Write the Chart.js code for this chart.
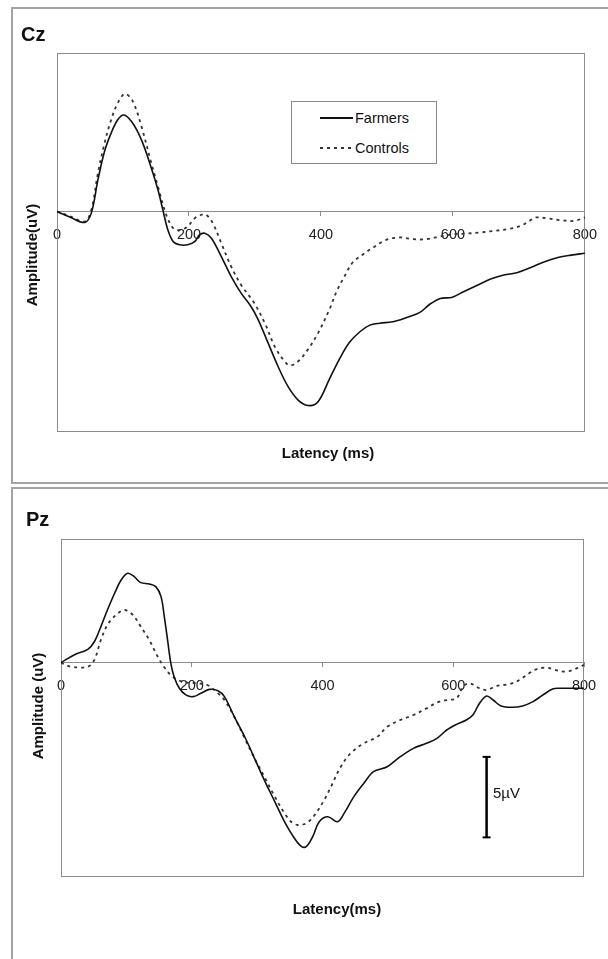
<!DOCTYPE html>
<html>
<head>
<meta charset="utf-8">
<script src="https://cdn.jsdelivr.net/npm/chart.js@4.4.1/dist/chart.umd.min.js"></script>
<style>
  body { margin: 0; width: 608px; height: 959px; overflow: hidden; position: relative; background: #fff;
         font-family: "Liberation Sans", Arial, sans-serif; color: #111; }
  .box { position: absolute; border: 2px solid #a3a3a3; box-sizing: border-box; }
  canvas { position: absolute; left: 0; }
  .txt { position: absolute; white-space: nowrap; }
  .panel-title { font-weight: bold; font-size: 20px; line-height: 20px; }
  .axis-title { font-weight: bold; font-size: 15px; line-height: 18px; text-align: center; width: 160px; }
  .legend-text { font-size: 14.5px; line-height: 16px; }
</style>
</head>
<body>
<div class="box" style="left:11px;top:7px;width:620px;height:477px"></div>
<div class="box" style="left:11px;top:487px;width:620px;height:490px"></div>

<canvas id="cz" width="608" height="483" style="top:0"></canvas>
<canvas id="pz" width="608" height="471" style="top:488px"></canvas>

<div class="txt panel-title" style="left:21px;top:24px">Cz</div>
<div class="txt panel-title" style="left:26px;top:509px">Pz</div>

<div class="txt axis-title" style="left:-48px;top:246px;transform:rotate(-90deg)">Amplitude(uV)</div>
<div class="txt axis-title" style="left:248px;top:444px">Latency (ms)</div>
<div class="txt axis-title" style="left:-42px;top:697px;transform:rotate(-90deg)">Amplitude (uV)</div>
<div class="txt axis-title" style="left:257px;top:900px">Latency(ms)</div>

<div style="position:absolute;left:291px;top:101px;width:146px;height:63px;border:1px solid #8a8a8a;box-sizing:border-box;background:#fff"></div>
<div style="position:absolute;left:320px;top:117px;width:33px;height:1.6px;background:#111"></div>
<div class="txt legend-text" style="left:355px;top:110px">Farmers</div>
<div style="position:absolute;left:320px;top:147px;width:33px;height:2px;background:repeating-linear-gradient(90deg,#333 0 3px,transparent 3px 7px)"></div>
<div class="txt legend-text" style="left:355px;top:140px">Controls</div>

<div class="txt" style="left:493px;top:785px;font-size:15px;line-height:16px">5µV</div>

<script>
// Cz electrode, latency (ms) and amplitude (uV)
const czFarmersMs = [0, 20, 42, 52, 62, 72, 82, 92, 101, 113, 128, 143, 153, 161, 168, 176, 186, 198, 209, 216, 224, 234, 249, 264, 279, 294, 305, 320, 335, 350, 365, 380, 395, 413, 428, 443, 459, 474, 489, 509, 530, 550, 565, 581, 598, 616, 637, 657, 677, 698, 718, 738, 759, 779, 800];
const czFarmersUv = [0, -0.35, -0.68, -0.1, 1.97, 3.73, 4.87, 5.7, 6.0, 5.59, 4.45, 2.69, 1.35, 0, -1.14, -1.86, -2.07, -2.07, -1.86, -1.45, -1.35, -1.66, -2.8, -4.04, -5.07, -5.9, -6.73, -8.18, -9.63, -10.87, -11.7, -12.05, -11.85, -10.4, -9.17, -8.14, -7.47, -7.06, -6.94, -6.85, -6.58, -6.27, -5.76, -5.4, -5.34, -4.99, -4.58, -4.2, -3.95, -3.79, -3.48, -3.13, -2.86, -2.71, -2.59];
const czControlsMs = [0, 20, 42, 52, 62, 72, 82, 92, 103, 115, 128, 143, 153, 163, 171, 178, 188, 198, 209, 219, 226, 236, 249, 264, 279, 299, 315, 330, 345, 353, 365, 380, 395, 413, 423, 436, 448, 464, 479, 499, 520, 540, 560, 581, 601, 621, 642, 662, 682, 703, 716, 726, 743, 764, 784, 800];
const czControlsUv = [0, -0.3, -0.62, 0.1, 2.38, 4.24, 5.69, 6.73, 7.31, 6.83, 5.28, 3.0, 1.55, 0.1, -0.72, -1.1, -1.14, -0.93, -0.41, -0.2, -0.2, -0.72, -1.97, -3.42, -4.56, -5.7, -6.94, -8.39, -9.32, -9.57, -9.32, -8.59, -7.6, -6.07, -5.03, -4.0, -3.17, -2.65, -2.24, -1.76, -1.61, -1.72, -1.72, -1.55, -1.41, -1.37, -1.3, -1.2, -1.1, -0.89, -0.58, -0.37, -0.43, -0.54, -0.58, -0.37];

// Pz electrode
const pzFarmersMs = [0, 20, 41, 51, 61, 71, 82, 92, 102, 112, 122, 135, 145, 153, 158, 163, 168, 173, 181, 191, 202, 214, 227, 240, 250, 265, 281, 296, 311, 327, 342, 357, 367, 375, 385, 395, 408, 423, 433, 448, 463, 478, 499, 519, 539, 559, 575, 590, 605, 620, 630, 640, 651, 661, 673, 691, 706, 722, 737, 752, 762, 782, 800];
const pzFarmersUv = [0, 0.48, 0.83, 1.3, 2.24, 3.27, 4.31, 5.13, 5.55, 5.34, 4.97, 4.89, 4.72, 4.1, 2.86, 1.41, -0.04, -0.87, -1.59, -2.0, -2.11, -1.9, -1.66, -1.74, -2.11, -3.35, -4.6, -5.94, -7.29, -8.63, -9.88, -10.9, -11.39, -11.43, -10.81, -9.88, -9.57, -9.88, -9.36, -8.32, -7.5, -6.77, -6.46, -5.84, -5.32, -5.01, -4.7, -4.18, -3.83, -3.56, -3.25, -2.53, -2.07, -2.32, -2.69, -2.77, -2.69, -2.42, -2.01, -1.64, -1.59, -1.59, -1.59];
const pzControlsMs = [0, 15, 41, 51, 61, 71, 84, 97, 110, 122, 135, 148, 158, 168, 179, 194, 209, 224, 240, 250, 265, 281, 296, 311, 327, 342, 352, 362, 375, 388, 403, 413, 428, 443, 463, 484, 499, 519, 539, 559, 575, 590, 605, 615, 625, 640, 651, 666, 686, 701, 716, 727, 742, 757, 772, 782, 800];
const pzControlsUv = [0, -0.25, -0.25, 0.17, 1.41, 2.34, 2.96, 3.27, 2.96, 2.24, 1.41, 0.37, -0.29, -0.77, -1.08, -1.24, -1.28, -1.39, -1.9, -2.32, -3.35, -4.7, -5.94, -7.08, -8.32, -9.36, -9.88, -10.08, -9.98, -9.46, -8.5, -7.7, -6.46, -5.63, -5.01, -4.6, -3.98, -3.56, -3.25, -2.84, -2.48, -2.32, -2.22, -1.49, -1.28, -1.59, -1.7, -1.45, -1.33, -1.08, -0.66, -0.41, -0.31, -0.46, -0.56, -0.46, -0.14];

// 5 uV calibration bar in the Pz panel
const barMs = [651, 651];
const barUv = [-5.85, -10.85];

const latencyTicks = [0, 200, 400, 600, 800];

Chart.defaults.font.family = '"Liberation Sans", Arial, sans-serif';
Chart.defaults.color = '#222';

const toPoints = (xs, ys) => xs.map((x, i) => ({ x: x, y: ys[i] }));

// grey frame round the plot area
const plotFrame = {
  id: 'plotFrame',
  beforeDatasetsDraw(chart) {
    const { ctx, chartArea: a } = chart;
    ctx.save();
    ctx.strokeStyle = '#8c8c8c';
    ctx.lineWidth = 1;
    ctx.strokeRect(Math.round(a.left) + 0.5, Math.round(a.top) + 0.5, Math.round(a.width) - 1, Math.round(a.height) - 1);
    ctx.restore();
  }
};

const farmersStyle = { borderColor: '#111', borderWidth: 1.6, pointRadius: 0, tension: 0.35, fill: false };
const controlsStyle = { borderColor: '#333', borderWidth: 1.8, borderDash: [3, 4], pointRadius: 0, tension: 0.35, fill: false };

const makeChart = (id, datasets, yMin, yMax, padding) => {
  return new Chart(document.getElementById(id), {
    type: 'line',
    data: { datasets: datasets },
    options: {
      responsive: false,
      animation: false,
      devicePixelRatio: 1,
      layout: { padding: padding },
      plugins: { legend: { display: false }, tooltip: { enabled: false } },
      scales: {
        x: {
          type: 'linear',
          min: 0,
          max: 800,
          position: { y: 0 },
          afterFit: (s) => { s.height = 0; },
          afterBuildTicks: (s) => { s.ticks = latencyTicks.map(v => ({ value: v })); },
          border: { display: true, color: '#8c8c8c', width: 1 },
          grid: { drawOnChartArea: false, drawTicks: true, tickLength: 4, color: '#8c8c8c' },
          ticks: { autoSkip: false, maxRotation: 0, padding: 11, font: { size: 14.5 }, color: '#222' }
        },
        y: { type: 'linear', min: yMin, max: yMax, display: false }
      }
    },
    plugins: [plotFrame]
  });
};

makeChart('cz', [
  Object.assign({ label: 'Farmers', data: toPoints(czFarmersMs, czFarmersUv) }, farmersStyle),
  Object.assign({ label: 'Controls', data: toPoints(czControlsMs, czControlsUv) }, controlsStyle)
], -13.7, 9.85, { left: 57, top: 53, right: 23, bottom: 51 });

makeChart('pz', [
  Object.assign({ label: 'Farmers', data: toPoints(pzFarmersMs, pzFarmersUv) }, farmersStyle),
  Object.assign({ label: 'Controls', data: toPoints(pzControlsMs, pzControlsUv) }, controlsStyle),
  { label: '5µV', data: toPoints(barMs, barUv), borderColor: '#000', borderWidth: 2.5, tension: 0,
    pointStyle: 'line', pointRadius: 4, pointBorderWidth: 2, pointBorderColor: '#000' }
], -13.31, 7.68, { left: 61, top: 51, right: 24, bottom: 82 });
</script>
</body>
</html>
